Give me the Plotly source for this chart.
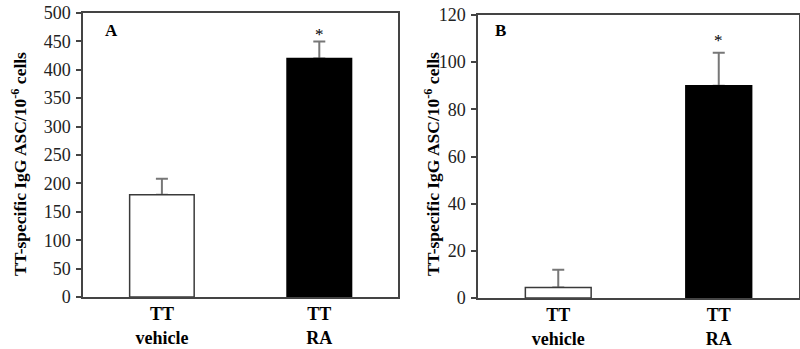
import plotly.graph_objects as go

categories = ["TT<br>vehicle", "TT<br>RA"]
values_a = [180, 420]
errors_a = [28, 30]
values_b = [4.5, 90]
errors_b = [7.5, 14]
ticks_a = list(range(0, 501, 50))
ticks_b = list(range(0, 121, 20))
sig_marks = ["", "*"]
bar_fill = ["white", "black"]
bar_line = ["#3a3a3a", "black"]
ytitle = "<b>TT-specific IgG ASC/10<sup>-6</sup> cells</b>"

FONT = "Liberation Serif"
fig = go.Figure()

for vals, errs, xa, ya, shift in [(values_a, errors_a, "x", "y", -5), (values_b, errors_b, "x2", "y2", 1)]:
    # error bars first (transparent bars), real bars drawn on top to hide the lower cap
    fig.add_trace(go.Bar(
        x=categories, y=vals, xaxis=xa, yaxis=ya, width=0.41,
        marker=dict(color="rgba(0,0,0,0)", line=dict(width=0)),
        error_y=dict(type="data", array=errs, symmetric=False, arrayminus=[0, 0],
                     color="#777777", thickness=2, width=6),
        showlegend=False, hoverinfo="skip",
    ))
    fig.add_trace(go.Bar(
        x=categories, y=vals, xaxis=xa, yaxis=ya, width=0.41,
        marker=dict(color=bar_fill, line=dict(color=bar_line, width=1.5)),
        showlegend=False,
    ))
    for c, v, e, s in zip(categories, vals, errs, sig_marks):
        if s:
            fig.add_annotation(x=c, y=v + e, xref=xa, yref=ya, text=s, showarrow=False,
                               xanchor="center", yanchor="bottom", yshift=shift,
                               font=dict(family=FONT, size=17, color="black"))

line_common = dict(showline=True, linecolor="#444444", linewidth=1.5, mirror=True,
                   showgrid=False, zeroline=False, automargin=False)
ytick = dict(ticks="outside", ticklen=5, tickcolor="#444444", tickwidth=1.5,
             tickfont=dict(family=FONT, size=18, color="#222222"), ticklabelstandoff=2)
xtick = dict(ticks="", tickfont=dict(family=FONT, size=18, color="black", weight="bold"),
             ticklabelstandoff=0)

fig.update_layout(
    width=800, height=349, margin=dict(l=0, r=0, t=0, b=0),
    paper_bgcolor="white", plot_bgcolor="white", barmode="overlay",
    xaxis=dict(domain=[0.104, 0.4975], anchor="y", **line_common, **xtick),
    yaxis=dict(domain=[0.149, 0.9628], anchor="x", range=[0, 500], tickvals=ticks_a,
               **line_common, **ytick),
    xaxis2=dict(domain=[0.5975, 0.99875], anchor="y2", **line_common, **xtick),
    yaxis2=dict(domain=[0.146, 0.957], anchor="x2", range=[0, 120], tickvals=ticks_b,
                **line_common, **ytick),
)

for xpos in (19 / 800, 432 / 800):
    fig.add_annotation(x=xpos, y=0.53, xref="paper", yref="paper", text=ytitle, textangle=-90,
                       xanchor="center", yanchor="middle", showarrow=False,
                       font=dict(family=FONT, size=17.5, color="black"))
fig.add_annotation(x=0.089, y=0.937, xref="x domain", yref="y domain", text="<b>A</b>",
                   xanchor="center", yanchor="middle", showarrow=False,
                   font=dict(family=FONT, size=17, color="black"))
fig.add_annotation(x=0.069, y=0.947, xref="x2 domain", yref="y2 domain", text="<b>B</b>",
                   xanchor="center", yanchor="middle", showarrow=False,
                   font=dict(family=FONT, size=17, color="black"))

fig.write_html("out.html", config={"displayModeBar": False},
               post_script="document.body.style.margin='0';document.body.style.overflow='hidden';")
